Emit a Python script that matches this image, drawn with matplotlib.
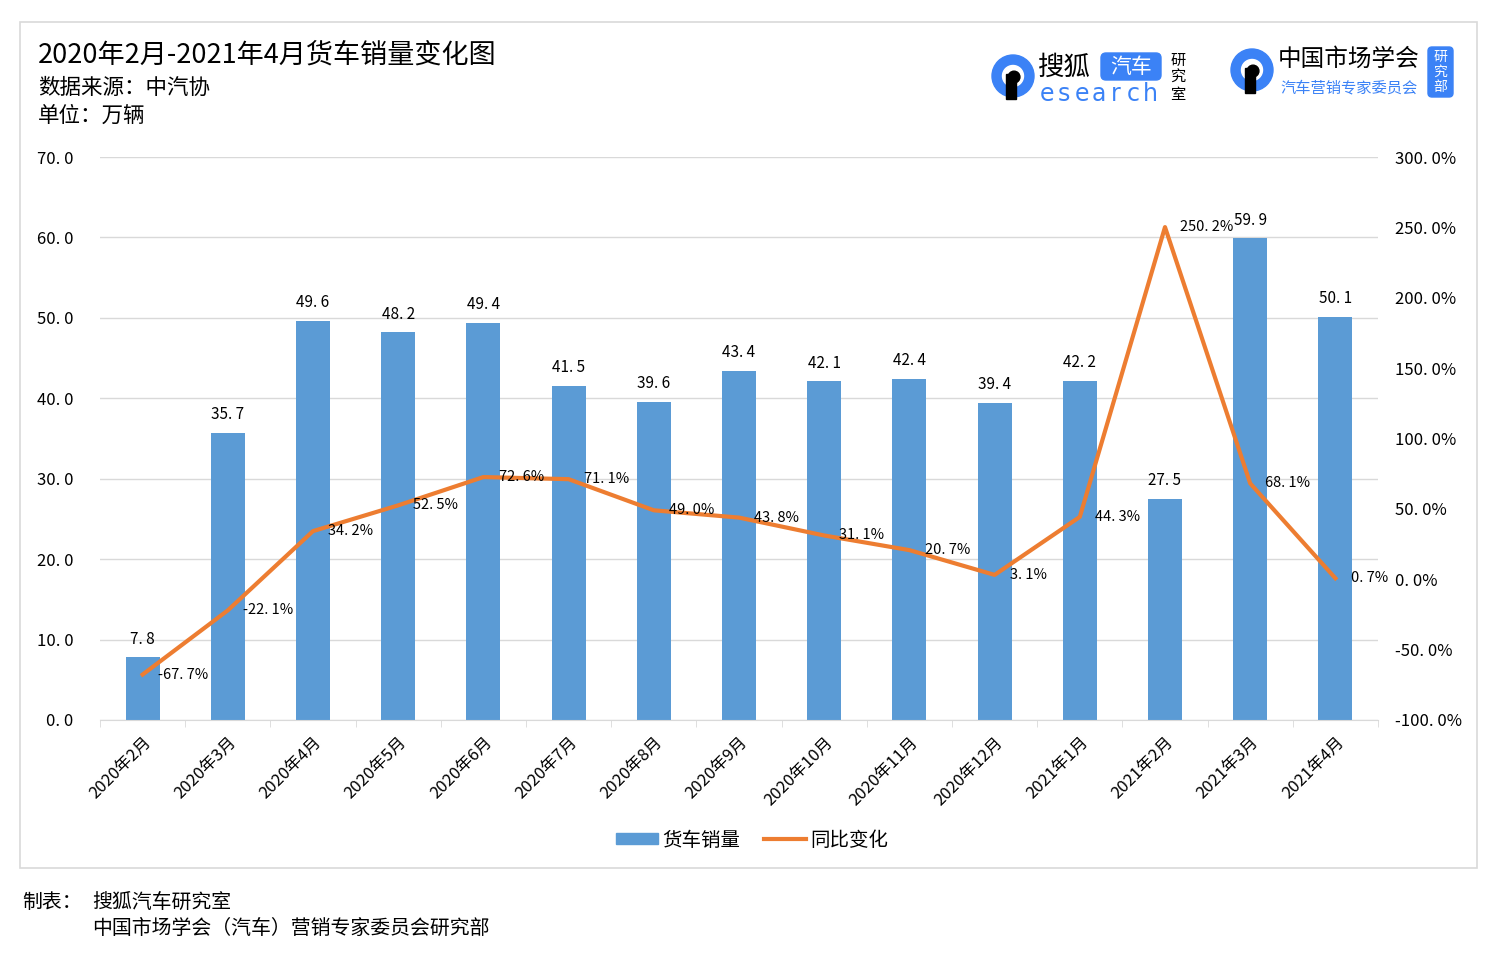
import matplotlib
matplotlib.use("Agg")
import matplotlib.pyplot as plt
from matplotlib.patches import Rectangle, FancyBboxPatch, Circle
from matplotlib.lines import Line2D

plt.rcParams['font.family'] = ['Noto Sans CJK SC', 'DejaVu Sans']

months = ["2020年2月", "2020年3月", "2020年4月", "2020年5月", "2020年6月", "2020年7月",
          "2020年8月", "2020年9月", "2020年10月", "2020年11月", "2020年12月", "2021年1月",
          "2021年2月", "2021年3月", "2021年4月"]
sales = [7.8, 35.7, 49.6, 48.2, 49.4, 41.5, 39.6, 43.4, 42.1, 42.4, 39.4, 42.2, 27.5, 59.9, 50.1]
yoy = [-67.7, -22.1, 34.2, 52.5, 72.6, 71.1, 49.0, 43.8, 31.1, 20.7, 3.1, 44.3, 250.2, 68.1, 0.7]

left_ticks = [0, 10, 20, 30, 40, 50, 60, 70]
right_ticks = [-100, -50, 0, 50, 100, 150, 200, 250, 300]

BLUE = "#5B9BD5"
ORANGE = "#ED7D31"
LOGO = "#3B82F6"

W, H = 1497, 964
fig = plt.figure(figsize=(W / 100, H / 100), dpi=100)

# outer frame
fig.patches.append(Rectangle((20 / W, 1 - 868 / H), 1457 / W, 846 / H, transform=fig.transFigure,
                             fill=False, edgecolor="#D9D9D9", linewidth=1.2))

ax = fig.add_axes([100 / W, 1 - 720 / H, 1278 / W, 563 / H])
x = list(range(len(months)))
ax.bar(x, sales, width=0.4, color=BLUE, zorder=2)
ax.set_xlim(-0.5, len(months) - 0.5)
ax.set_ylim(0, 70)
ax.set_yticks(left_ticks)
ax.set_yticklabels([f"{v}. 0" for v in left_ticks], fontsize=12)
ax.tick_params(axis="y", length=0, pad=19)
ax.grid(axis="y", color="#D9D9D9", linewidth=1, zorder=0)
for s in ["top", "right", "left"]:
    ax.spines[s].set_visible(False)
ax.spines["bottom"].set_color("#D9D9D9")
ax.set_xticks(x)
ax.set_xticklabels(months, rotation=45, ha="right", rotation_mode="anchor", fontsize=12)
ax.tick_params(axis="x", length=0, pad=10)
ax.set_xticks([i + 0.5 for i in range(-1, len(months))], minor=True)
ax.tick_params(axis="x", which="minor", length=5, color="#D9D9D9")

for xi, v in zip(x, sales):
    ax.annotate(f"{v:.1f}".replace(".", ". "), (xi, v), xytext=(0, 7), textcoords="offset points",
                ha="center", va="bottom", fontsize=11)

ax2 = ax.twinx()
ax2.plot(x, yoy, color=ORANGE, linewidth=3, zorder=3)
ax2.set_ylim(-100, 300)
ax2.set_yticks(right_ticks)
ax2.set_yticklabels([f"{v}. 0%" for v in right_ticks], fontsize=12)
ax2.tick_params(axis="y", length=0, pad=12)
for s in ["top", "right", "left", "bottom"]:
    ax2.spines[s].set_visible(False)

for xi, v in zip(x, yoy):
    ax2.annotate(f"{v:.1f}".replace(".", ". ") + "%", (xi, v), xytext=(11, 0), textcoords="offset points",
                 ha="left", va="center", fontsize=10.5)

# titles
fig.text(38 / W, 1 - 55 / H, "2020年2月-2021年4月货车销量变化图", fontsize=19.5, va="center", ha="left")
fig.text(38 / W, 1 - 88 / H, "数据来源：中汽协", fontsize=15.5, va="center", ha="left")
fig.text(38 / W, 1 - 116 / H, "单位：万辆", fontsize=15.5, va="center", ha="left")

# legend
leg_handles = [Rectangle((0, 0), 1, 1, color=BLUE), Line2D([0], [0], color=ORANGE, linewidth=3)]
fig.legend(leg_handles, ["货车销量", "同比变化"], loc="center", bbox_to_anchor=(752 / W, 1 - 840 / H),
           ncol=2, frameon=False, fontsize=14, handlelength=2.2, handleheight=0.5, columnspacing=1.2,
           handletextpad=0.2)

# footer
fig.text(22 / W, 1 - 902 / H, "制表：", fontsize=14.3, va="center", ha="left")
fig.text(92 / W, 1 - 902 / H, "搜狐汽车研究室", fontsize=14.3, va="center", ha="left")
fig.text(92 / W, 1 - 928 / H, "中国市场学会（汽车）营销专家委员会研究部", fontsize=14.3, va="center", ha="left")

# logos
lax = fig.add_axes([0, 0, 1, 1], facecolor="none")
lax.set_xlim(0, W)
lax.set_ylim(H, 0)
lax.axis("off")


def q_logo(cx, cy, r):
    lax.add_patch(Circle((cx, cy), r, color=LOGO, zorder=1))
    lax.add_patch(Circle((cx, cy), r * 0.5, color="white", zorder=2))
    lax.add_patch(Rectangle((cx - r * 0.35, cy - r * 0.1), r * 0.5, r * 1.2, color="black", zorder=3))
    lax.add_patch(Circle((cx + 0.05 * r, cy + 0.05 * r), r * 0.28, color="black", zorder=3))


q_logo(1013, 76, 21)
lax.text(1038, 67, "搜狐", fontsize=19, va="center", ha="left")
lax.add_patch(FancyBboxPatch((1101, 53), 60, 27, boxstyle="round,pad=0,rounding_size=5", color=LOGO))
lax.text(1131, 67, "汽车", fontsize=15, color="white", va="center", ha="center")
for i, ch in enumerate("esearch"):
    lax.text(1047 + i * 17.3, 94, ch, fontsize=17, color=LOGO, va="center", ha="center",
             family="DejaVu Sans")
for i, ch in enumerate("研究室"):
    lax.text(1178, 60 + i * 17, ch, fontsize=11, va="center", ha="center")

q_logo(1252, 70, 21)
lax.text(1278, 59, "中国市场学会", fontsize=17, va="center", ha="left")
lax.text(1280, 88, "汽车营销专家委员会", fontsize=11, color=LOGO, va="center", ha="left")
lax.add_patch(FancyBboxPatch((1428, 47), 25, 50, boxstyle="round,pad=0,rounding_size=4", color=LOGO))
for i, ch in enumerate("研究部"):
    lax.text(1440.5, 57 + i * 15, ch, fontsize=10, color="white", va="center", ha="center")

fig.savefig("out.png", dpi=100)
